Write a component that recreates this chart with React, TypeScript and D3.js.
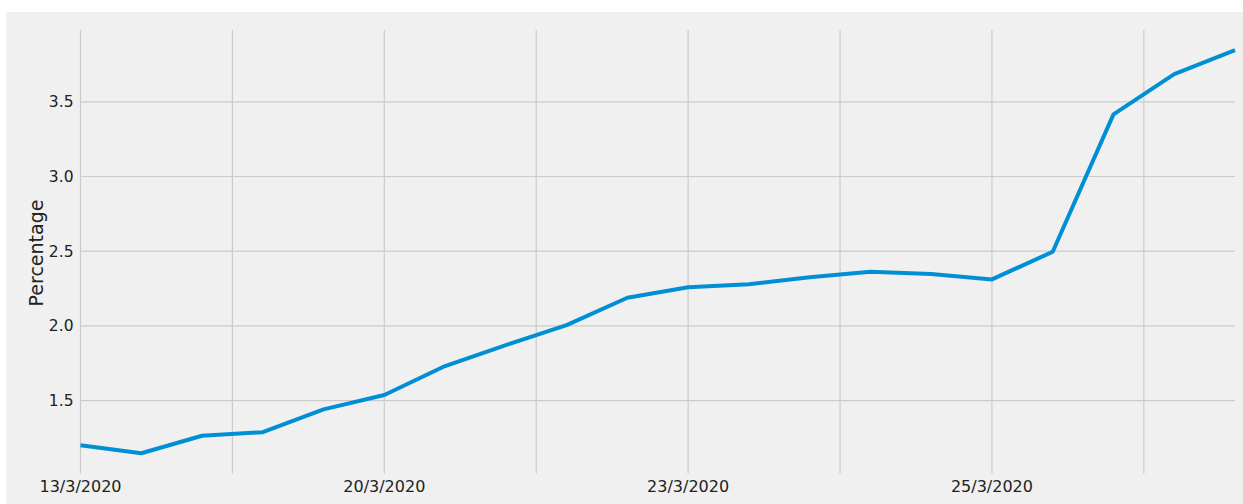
import React, { useEffect, useRef } from "react";
import * as d3 from "d3";

// ---- data ----
const pointIndex: number[] = [0,1,2,3,4,5,6,7,8,9,10,11,12,13,14,15,16,17,18,19];
const percentage: number[] = [
  1.20, 1.147, 1.264, 1.288, 1.441, 1.537, 1.731, 1.871, 2.005, 2.188,
  2.258, 2.278, 2.325, 2.362, 2.347, 2.311, 2.496, 3.416, 3.685, 3.846,
];
const xTickLabels: string[] = ["13/3/2020", "20/3/2020", "23/3/2020", "25/3/2020"];
const xTickAt: number[] = [0, 5, 10, 15];
const xGridAt: number[] = [0, 2.5, 5, 7.5, 10, 12.5, 15, 17.5];
const yTicks: number[] = [1.5, 2.0, 2.5, 3.0, 3.5];
const yLabel = "Percentage";

const W = 1243;
const H = 504;
const FONT = "'DejaVu Sans', sans-serif";

export default function App() {
  const ref = useRef<SVGSVGElement | null>(null);

  useEffect(() => {
    const svg = d3.select(ref.current!);
    svg.selectAll("*").remove();

    const left = 80.5, right = 1235, top = 30, bottom = 473.4;

    const [mn, mx] = d3.extent(percentage) as [number, number];
    const pad = (mx - mn) * 0.05;
    const x = d3.scaleLinear().domain([0, pointIndex.length - 1]).range([left, right]);
    const y = d3.scaleLinear().domain([mn - pad, mx + pad]).range([bottom, top]);

    svg.append("rect").attr("x", 0).attr("y", 0).attr("width", W).attr("height", H).attr("fill", "#ffffff");
    svg.append("rect").attr("x", 6).attr("y", 12).attr("width", W - 6).attr("height", H - 12).attr("fill", "#f0f0f0");

    const g = svg.append("g");

    // grid
    g.selectAll("line.hg").data(yTicks).enter().append("line")
      .attr("x1", left).attr("x2", right)
      .attr("y1", d => y(d)).attr("y2", d => y(d))
      .attr("stroke", "#cbcbcb").attr("stroke-width", 1.2);
    g.selectAll("line.vg").data(xGridAt).enter().append("line")
      .attr("x1", d => x(d)).attr("x2", d => x(d))
      .attr("y1", top).attr("y2", bottom)
      .attr("stroke", "#cbcbcb").attr("stroke-width", 1.2);

    // y tick labels
    g.selectAll("text.yt").data(yTicks).enter().append("text")
      .attr("x", 73.5).attr("y", d => y(d))
      .attr("dy", "0.36em")
      .attr("text-anchor", "end")
      .attr("font-family", FONT).attr("font-size", 15.5).attr("fill", "#222")
      .text(d => d.toFixed(1));

    // x tick labels
    g.selectAll("text.xt").data(xTickAt).enter().append("text")
      .attr("x", d => x(d)).attr("y", 491.5)
      .attr("text-anchor", "middle")
      .attr("font-family", FONT).attr("font-size", 16).attr("fill", "#222")
      .text((d, i) => xTickLabels[i]);

    // y label
    g.append("text")
      .attr("transform", `translate(42.5,253) rotate(-90)`)
      .attr("text-anchor", "middle")
      .attr("font-family", FONT).attr("font-size", 19).attr("fill", "#222")
      .text(yLabel);

    // line
    const line = d3.line<number>().x((d, i) => x(pointIndex[i])).y(d => y(d));
    g.append("path").datum(percentage)
      .attr("d", line)
      .attr("fill", "none")
      .attr("stroke", "#008fd5")
      .attr("stroke-width", 4)
      .attr("stroke-linejoin", "round");
  }, []);

  return (
    <svg ref={ref} width={W} height={H}
      style={{ position: "absolute", left: 0, top: 0, display: "block" }} />
  );
}
